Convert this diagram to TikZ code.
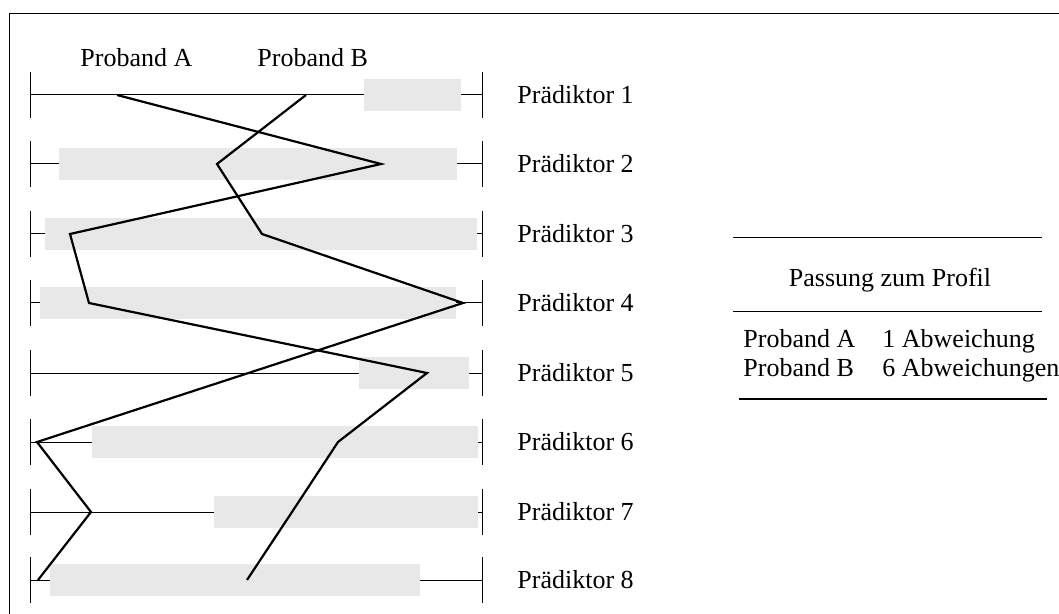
\documentclass[tikz,border=0pt]{standalone}
\usepackage{fontspec}
\setmainfont{Liberation Serif}
\definecolor{bandgrey}{RGB}{232,232,232}
\begin{document}
\begin{tikzpicture}[x=0.5pt,y=-0.5pt,
  thinline/.style={line width=0.5pt},
  profile/.style={line width=1.1pt, line join=miter},
  band/.style={fill=bandgrey},
  lbl/.style={anchor=base west, inner sep=0pt, font=\fontsize{13}{15}\selectfont},
  clbl/.style={anchor=base, inner sep=0pt, font=\fontsize{13}{15}\selectfont}]
\useasboundingbox (0,0) rectangle (1059,614);
\draw[thinline] (1059,14) -- (9,14) -- (9,614);
% rows
\foreach \i/\y/\a/\b in {1/95/364/461, 2/164/59/457, 3/234/45/477, 4/303/40/456, 5/373/359/469, 6/442/92/478, 7/512/214/478, 8/580/50/420} {
  \draw[thinline] (30,\y) -- (482,\y);
  \fill[band] (\a,\y-16) rectangle (\b,\y+16);
  \draw[thinline] (30,\y-23) -- (30,\y+23);
  \draw[thinline] (482,\y-23) -- (482,\y+23);
  \node[lbl] (p\i) at (517,\y+8.5) {Prädiktor \i};
}
% headers
\node[lbl] (hA) at (80,67) {Proband A};
\node[lbl] (hB) at (257,67) {Proband B};
% profile points
\coordinate (a1) at (117,95);
\coordinate (a2) at (381,164);
\coordinate (a3) at (70,234);
\coordinate (a4) at (89,303);
\coordinate (a5) at (427,373);
\coordinate (a6) at (338,442);
\coordinate (a7) at (292,512);
\coordinate (a8) at (247,580);
\coordinate (b1) at (306,95);
\coordinate (b2) at (217,164);
\coordinate (b3) at (262,234);
\coordinate (b4) at (463,303);
\coordinate (b5) at (248.5,373);
\coordinate (b6) at (37,442);
\coordinate (b7) at (91,512);
\coordinate (b8) at (38,580);
\draw[profile] (a1) -- (a2) -- (a3) -- (a4) -- (a5) -- (a6) -- (a7) -- (a8);
\draw[profile] (b1) -- (b2) -- (b3) -- (b4) -- (b5) -- (b6) -- (b7) -- (b8);
% table
\coordinate (r1l) at (733,238); \coordinate (r1r) at (1042,238);
\coordinate (r2l) at (733,312); \coordinate (r2r) at (1042,312);
\coordinate (r3l) at (739,399); \coordinate (r3r) at (1047,399);
\draw[thinline] (r1l) -- (r1r);
\draw[thinline] (r2l) -- (r2r);
\draw[line width=0.6pt] (r3l) -- (r3r);
\node[clbl] (title) at (890,287) {Passung zum Profil};
\node[lbl] (tA) at (743,348) {Proband A};
\node[lbl] (tAv) at (882,348) {1 Abweichung};
\node[lbl] (tB) at (743,377) {Proband B};
\node[lbl] (tBv) at (882,377) {6 Abweichungen};
\end{tikzpicture}
\end{document}
